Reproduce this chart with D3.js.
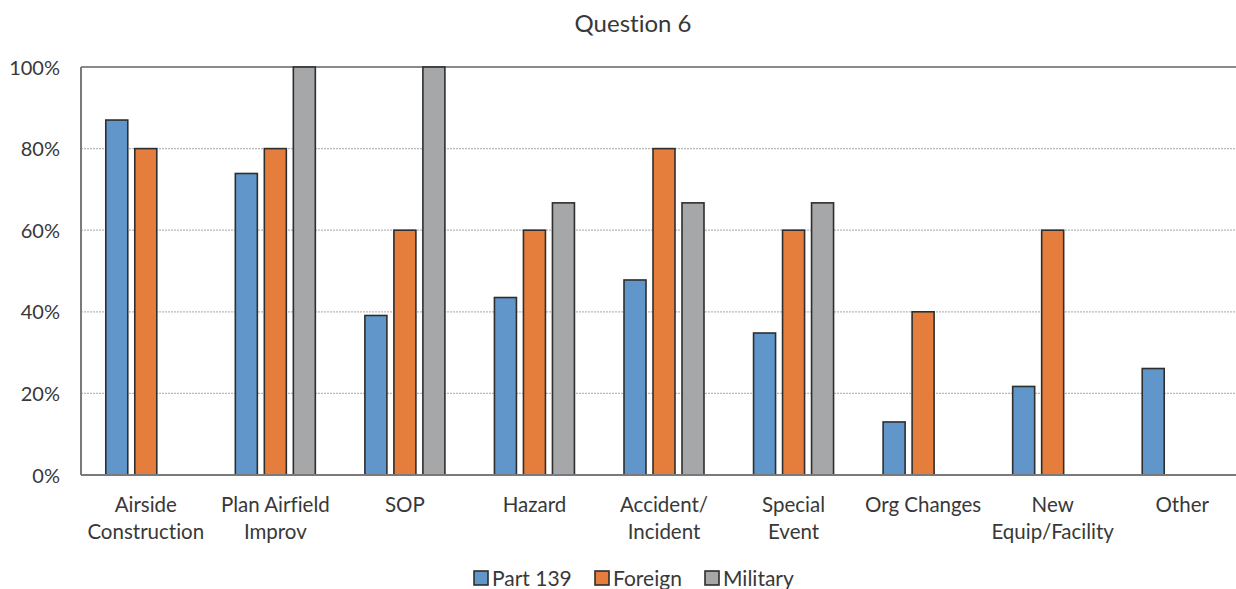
<!DOCTYPE html>
<html>
<head>
<meta charset="utf-8">
<script src="https://cdn.jsdelivr.net/npm/d3@7/dist/d3.min.js"></script>
<style>
  html, body { margin: 0; padding: 0; background: #fff; }
  svg { display: block; font-family: Lato, "Open Sans", sans-serif; font-variant-ligatures: none; }
</style>
</head>
<body>
<svg id="chart" width="1236" height="589"></svg>
<script>
// Survey responses for Question 6, share of respondents per airport type
const categories = [
  ["Airside", "Construction"],
  ["Plan Airfield", "Improv"],
  ["SOP"],
  ["Hazard"],
  ["Accident/", "Incident"],
  ["Special", "Event"],
  ["Org Changes"],
  ["New", "Equip/Facility"],
  ["Other"]
];
const seriesNames = ["Part 139", "Foreign", "Military"];
const part139 = [87.0, 73.9, 39.1, 43.5, 47.8, 34.8, 13.0, 21.7, 26.1];
const foreign = [80, 80, 60, 60, 80, 60, 40, 60, 0];
const military = [0, 100, 100, 66.7, 66.7, 66.7, 0, 0, 0];
const yTicks = [0, 20, 40, 60, 80, 100];

const colors = ["#6096CA", "#E57E3D", "#A6A7A9"];
const textColor = "#383838";

const svg = d3.select("#chart");
const W = 1236, H = 589;
const plot = { left: 81, right: 1247, top: 67, bottom: 475 };

const keys = categories.map((c, i) => i);
const x = d3.scaleBand().domain(keys).range([plot.left, plot.right]).paddingInner(0).paddingOuter(0);
const y = d3.scaleLinear().domain([0, 100]).range([plot.bottom, plot.top]);

const barW = 22, gap = 7;
const groupW = barW * 3 + gap * 2;
const xs = d3.scaleBand().domain(seriesNames).range([0, groupW]).paddingInner(gap / (barW + gap)).paddingOuter(0);

// title
svg.append("text")
  .attr("x", 633).attr("y", 32)
  .attr("text-anchor", "middle")
  .attr("fill", textColor)
  .style("font-size", "24px")
  .text("Question 6");

// dotted gridlines
svg.append("g").selectAll("line")
  .data(yTicks.filter(t => t > 0 && t < 100))
  .join("line")
  .attr("x1", plot.left).attr("x2", W)
  .attr("y1", d => y(d)).attr("y2", d => y(d))
  .attr("stroke", "#b8b8b8")
  .attr("stroke-width", 1.2)
  .attr("stroke-dasharray", "2,1");

// top boundary line
svg.append("line")
  .attr("x1", plot.left).attr("x2", W)
  .attr("y1", y(100)).attr("y2", y(100))
  .attr("stroke", "#8a8a8a").attr("stroke-width", 2);

// y axis labels
const yAxis = d3.axisLeft(y).tickValues(yTicks).tickFormat(d => d + "%").tickSize(0).tickPadding(21);
const yg = svg.append("g").attr("transform", `translate(${plot.left},0)`).call(yAxis);
yg.select(".domain").remove();
yg.selectAll("text")
  .attr("fill", textColor)
  .style("font-size", "20px")
  .style("font-family", "Lato, sans-serif")
  .attr("dy", "0.35em");

// bars
const data = keys.map(i => ({ i, vals: [part139[i], foreign[i], military[i]] }));
const groups = svg.append("g").selectAll("g")
  .data(data)
  .join("g")
  .attr("transform", d => `translate(${x(d.i) + x.bandwidth() / 2 - groupW / 2},0)`);

groups.selectAll("rect")
  .data(d => d.vals.map((v, s) => ({ v, s })).filter(e => e.v > 0))
  .join("rect")
  .attr("x", d => xs(seriesNames[d.s]))
  .attr("width", xs.bandwidth())
  .attr("y", d => y(d.v))
  .attr("height", d => y(0) - y(d.v))
  .attr("fill", d => colors[d.s])
  .attr("stroke", "#2e2e2e")
  .attr("stroke-width", 1.6);

// axis lines
svg.append("line")
  .attr("x1", plot.left).attr("x2", W)
  .attr("y1", y(0)).attr("y2", y(0))
  .attr("stroke", "#7a7a7a").attr("stroke-width", 2);
svg.append("line")
  .attr("x1", plot.left).attr("x2", plot.left)
  .attr("y1", y(100)).attr("y2", y(0))
  .attr("stroke", "#7a7a7a").attr("stroke-width", 2);

// category labels
const xl = svg.append("g").selectAll("text")
  .data(data)
  .join("text")
  .attr("x", d => x(d.i) + x.bandwidth() / 2)
  .attr("y", 512)
  .attr("text-anchor", "middle")
  .attr("fill", textColor)
  .style("font-size", "20.5px");
xl.selectAll("tspan")
  .data(d => categories[d.i].map(t => ({ t, cx: x(d.i) + x.bandwidth() / 2 })))
  .join("tspan")
  .attr("x", d => d.cx)
  .attr("dy", (d, k) => k === 0 ? 0 : 27)
  .text(d => d.t);

// legend
const legendItems = seriesNames.map((n, s) => ({ n, s }));
const legendX = [474, 595, 705];
const lg = svg.append("g").selectAll("g")
  .data(legendItems)
  .join("g")
  .attr("transform", d => `translate(${legendX[d.s]},571)`);
lg.append("rect")
  .attr("width", 14).attr("height", 14)
  .attr("fill", d => colors[d.s])
  .attr("stroke", "#2e2e2e").attr("stroke-width", 1.6);
lg.append("text")
  .attr("x", 18).attr("y", 7).attr("dy", "0.36em")
  .attr("fill", textColor)
  .style("font-size", "21px")
  .text(d => d.n);
</script>
</body>
</html>
